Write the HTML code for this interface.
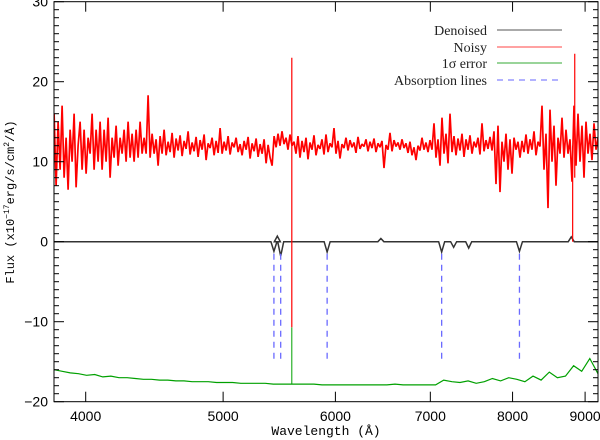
<!DOCTYPE html>
<html><head><meta charset="utf-8"><style>
html,body{margin:0;padding:0;background:#fff;}
svg{display:block;}
</style></head><body>
<svg id="chart" width="600" height="440" viewBox="0 0 600 440" font-family="Liberation Sans, sans-serif">
<defs><clipPath id="clip"><rect x="54" y="1.7" width="544" height="400"/></clipPath></defs>
<g id="plot" clip-path="url(#clip)"></g>
<rect x="54" y="1.7" width="544" height="400" fill="none" stroke="#000" stroke-width="1"/>
<g id="axes" font-family="Liberation Sans, sans-serif"></g>
<text x="326" y="435" text-anchor="middle" font-family="Liberation Mono, monospace" font-size="13">Wavelength (Å)</text>
<text transform="translate(14,202) rotate(-90)" text-anchor="middle" font-family="Liberation Mono, monospace" font-size="12">Flux (x10<tspan dy="-5" font-size="8">−17</tspan><tspan dy="5">erg/s/cm</tspan><tspan dy="-5" font-size="8">2</tspan><tspan dy="5">/Å)</tspan></text>
<g font-family="Liberation Serif, serif" font-size="14" fill="#222">
<g><text x="487" y="35" text-anchor="end">Denoised</text><line x1="497" y1="30" x2="562" y2="30" stroke="#555"/></g>
<g><text x="487" y="52" text-anchor="end">Noisy</text><line x1="497" y1="47" x2="562" y2="47" stroke="#f44"/></g>
<g><text x="487" y="68" text-anchor="end">1σ error</text><line x1="497" y1="63" x2="562" y2="63" stroke="#3a3"/></g>
<g><text x="487" y="85" text-anchor="end">Absorption lines</text><line x1="497" y1="80" x2="562" y2="80" stroke="#6666ff" stroke-dasharray="6,5"/></g>
</g>
</svg>
<script>
const wlStart = 3800, wlEnd = 9190;
const noisyValues = [16,7,15,9,17,8,13,6.5,14,10,16,6.8,12,15,9,14,8.5,13,11,16,9,14,10,
15,9,14,10,15.5,8,13,10.5,14.5,9.5,13,11,14,10,15,10.5,13.5,10,14,10.5,15,11,
13,11,18.3,10.5,13.5,11,12.8,9.5,13.2,11,14,10.8,12.5,11.2,13.6,10.5,12.9,11.4,13.3,10.7,12.6,11.6,13.8,10.9,12.4,11.3,13.1,10.6,12.7,11.5,13.4,10.2,12.3,11.7,13,10.8,12.6,11.1,14.2,11,12.5,11.4,13.2,10.9,12.4,11.8,13,11.2,12.2,10.8,12.6,11.5,13.1,10.4,12.3,11.3,12.9,10.6,12.2,11,12.8,9.8,12.1,10.5,9.5,
13.2,11.8,13.5,12,13.8,12.2,13,11.5,13.4,12,
12.5,11,13.2,10.5,12.6,11.2,13,10.3,12.4,11.5,13.3,10.8,12.1,11.6,12.8,10.9,13.4,11.2,12.3,11.8,14.2,11,12.6,10.4,12.2,11.7,13,11.4,12.7,11.8,12.4,11.1,13.1,11.6,12.2,11.9,12.8,11.3,12.5,11.7,12.9,11.2,12.3,11.8,12.6,9.2,12.1,11.5,13.6,11.3,12.7,11.9,12.4,11.5,12.8,11.7,12.3,11.1,12.5,10.8,11.8,10.2,12,11.4,13,11.5,12.4,11.2,12.7,
11.5,14.8,10.5,12.8,9.5,15.5,11,13.5,9.8,16,11.2,13.2,10.8,12.9,11.4,13.5,10.6,12.8,11.5,13.3,11,12.5,11.8,13,10.9,14.8,11.3,12.7,11.6,13.1,11.4,
13.8,7.2,14.5,6.2,12.5,10,13.5,9,12.8,8.5,13,11.5,12.5,10.5,
12.6,11.2,13.4,11,12.8,11.5,13.8,10.8,12.5,11.9,
17,9,13.5,4.2,16.5,10,14.5,7,13,11,
15.5,10.5,14,11,12.8,7.5,17,9.5,16,10,14.5,8,15,11,13.5,10.2,14.8,11.5,13];
const spikeWl = [5590, 8820, 8850];
const spikeTop = [23, 12, 23.5];
const spikeBottom = [-10.7, 0, 8];
const errorValues = [-16,-16.2,-16.4,-16.5,-16.7,-16.6,-16.9,-16.8,-17,-17,-17.1,-17.2,
-17.2,-17.3,-17.3,-17.4,-17.4,-17.5,-17.5,-17.5,-17.6,-17.6,-17.6,-17.7,-17.7,-17.7,-17.7,-17.8,
-17.8,-17.8,-17.8,-17.8,-17.8,-17.9,-17.9,-17.9,-17.9,-17.9,-17.9,-17.9,-17.9,-17.9,-17.8,-17.9,-17.9,-17.9,-17.9,-17.9,
-17.3,-17.5,-17.6,-17.4,-17.7,-17.5,-17.1,-17.4,-17,-17.2,-17.5,-16.8,-17.3,-16.3,-17,-16.8,-15.5,-16.2,-14.6,-16.5];
const errorSpikeWl = [5590];
const errorSpikeTop = [-10.7];
const featureWl = [5430,5460,5490,5920,6460,7130,7270,7450,8090,8800];
const featureDepth = [-1.2,0.7,-1.8,-1.3,0.4,-1.3,-0.7,-0.8,-1.2,0.6];
const absorptionWl = [5430,5490,5920,7130,8090];
const absorptionBottom = -15;
const xTicks = [4000,5000,6000,7000,8000,9000];
const yTicks = [-20,-10,0,10,20,30];

const NS = 'http://www.w3.org/2000/svg';
const xs = w => 85.7 + 1418 * (Math.log10(w) - Math.log10(4000));
const ys = v => 241.7 - 8 * v;
const plot = document.getElementById('plot');
const axes = document.getElementById('axes');
function mk(tag, attrs, parent){const e=document.createElementNS(NS,tag);for(const k in attrs)e.setAttribute(k,attrs[k]);parent.appendChild(e);return e;}
const wlAt = (i,n) => Math.pow(10, Math.log10(wlStart) + (Math.log10(wlEnd)-Math.log10(wlStart))*i/(n-1));

let d = 'M' + xs(wlStart) + ',' + ys(0);
featureWl.forEach((w,i)=>{const x=xs(w);d+=' L'+(x-3)+','+ys(0)+' L'+x+','+ys(featureDepth[i])+' L'+(x+3)+','+ys(0);});
d += ' L' + xs(wlEnd) + ',' + ys(0);
const den = mk('path',{d:d,fill:'none',stroke:'#333','stroke-width':1.5},plot);



absorptionWl.forEach(w=>{
  const l = mk('line',{x1:xs(w),x2:xs(w),y1:ys(-1.5),y2:ys(absorptionBottom),stroke:'#6a6aff','stroke-dasharray':'6,5','stroke-width':1.3},plot);
  
  
});

let ge = errorValues.map((v,i)=>(i?'L':'M')+xs(wlAt(i,errorValues.length)).toFixed(1)+','+ys(v).toFixed(1)).join(' ');
const err = mk('path',{d:ge,fill:'none',stroke:'#00a000','stroke-width':1.2},plot);


errorSpikeWl.forEach((w,i)=>{
  const s = mk('line',{x1:xs(w),x2:xs(w),y1:ys(-17.8),y2:ys(errorSpikeTop[i]),stroke:'#00a000','stroke-width':1},plot);
  
  
});

let nd = noisyValues.map((v,i)=>(i?'L':'M')+xs(wlAt(i,noisyValues.length)).toFixed(1)+','+ys(v).toFixed(1)).join(' ');
const noisy = mk('path',{d:nd,fill:'none',stroke:'#f00','stroke-width':1.7,'stroke-linejoin':'bevel'},plot);


spikeWl.forEach((w,i)=>{
  const s = mk('line',{x1:xs(w),x2:xs(w),y1:ys(spikeBottom[i]),y2:ys(spikeTop[i]),stroke:'#f00','stroke-width':1.2},plot);
  
  
});

for(let v=-20; v<=30; v++){
  const major = v%10===0, len = major?10:5;
  mk('line',{x1:54,x2:54+len,y1:ys(v),y2:ys(v),stroke:'#000'},axes);
  mk('line',{x1:598,x2:598-len,y1:ys(v),y2:ys(v),stroke:'#000'},axes);
}
yTicks.forEach(v=>{
  const t = mk('text',{x:48,y:ys(v)+5,'text-anchor':'end','font-size':14},axes);
  t.textContent = (v<0?'−':'')+Math.abs(v);
  
  
});
xTicks.forEach(w=>{
  const x = xs(w);
  mk('line',{x1:x,x2:x,y1:401.7,y2:391.7,stroke:'#000'},axes);
  mk('line',{x1:x,x2:x,y1:1.7,y2:11.7,stroke:'#000'},axes);
  const t = mk('text',{x:x,y:421,'text-anchor':'middle','font-size':14},axes);
  t.textContent = w;
  
  
});
</script>
</body></html>
